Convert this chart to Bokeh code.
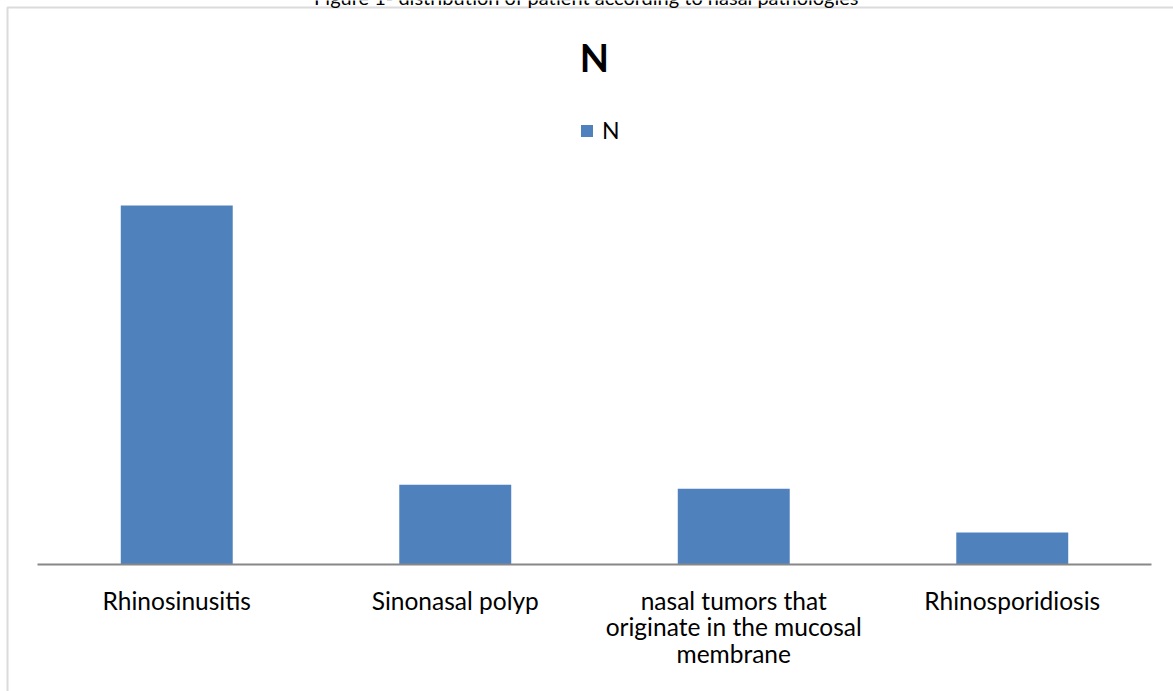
from bokeh.plotting import figure
from bokeh.models import Range1d, Label, BoxAnnotation
from bokeh.core.properties import value
from bokeh.embed import file_html
from bokeh.resources import INLINE
import numpy as np

# ---- data ----
categories = [
    "Rhinosinusitis",
    "Sinonasal polyp",
    "nasal tumors that\noriginate in the mucosal\nmembrane",
    "Rhinosporidiosis",
]
counts = [90, 20, 19, 8]
series_name = "N"
chart_title = "N"
caption = "Figure 1- distribution of patient according to nasal pathologies"

# ---- layout helpers (pixel -> data, for decorations only) ----
W, H = 1173, 691
PX0, STEP = 37.0, 278.5      # left edge of category area, px per category
BASE, PPU = 564.0, 3.99      # baseline pixel row, px per unit
def xd(px):
    return (px - PX0) / STEP
def yd(py):
    return (BASE - py) / PPU

FONT = "Lato"
BLUE = "#4F81BD"
GRAY = "#878787"

x_pos = np.arange(len(categories)) + 0.5

p = figure(width=W, height=H, output_backend="svg", toolbar_location=None,
           x_range=Range1d(xd(0), xd(W)), y_range=Range1d(yd(H), yd(0)),
           x_axis_type=None, y_axis_type=None,
           min_border=0, min_border_left=0, min_border_right=0,
           min_border_top=0, min_border_bottom=0)
p.title.visible = False
p.grid.visible = False
p.outline_line_color = None
p.background_fill_color = "white"
p.border_fill_color = "white"

# chart border (cropped on right and bottom)
p.add_layout(BoxAnnotation(left=xd(7), top=yd(7), right=xd(W + 30), bottom=yd(H + 30),
                           fill_alpha=0, line_color=GRAY, line_width=2))

# bars
p.vbar(x=x_pos, top=counts, bottom=0, width=0.402, fill_color=BLUE,
       line_color=None, legend_label=series_name)

# category axis line
p.segment(x0=[0], x1=[len(categories)], y0=[0], y1=[0], line_color=GRAY, line_width=2)

# category labels
p.text(x=x_pos, y=[yd(585)] * len(categories), text=categories,
       text_align="center", text_baseline="top",
       text_font=value(FONT), text_font_size="24.5px", text_color="black",
       text_line_height=0.92)

# title
p.add_layout(Label(x=len(categories) / 2, y=yd(56.5), text=chart_title,
                   text_align="center", text_baseline="alphabetic",
                   text_font=FONT, text_font_style="bold", text_font_size="38px",
                   text_color="black"))

# caption (cut off by the top of the page, as in the reference)
p.add_layout(Label(x=586, y=H + 4, x_units="screen", y_units="screen", text=caption,
                   text_align="center", text_baseline="alphabetic",
                   text_font=FONT, text_font_size="20px", text_color="black"))

# legend
lg = p.legend[0]
lg.location = (579, 547)
lg.orientation = "horizontal"
lg.border_line_color = None
lg.background_fill_alpha = 0
lg.padding = 0
lg.margin = 0
lg.glyph_width = 15
lg.glyph_height = 15
lg.label_standoff = 8
lg.label_text_font = FONT
lg.label_text_font_size = "23px"
lg.label_text_color = "black"

open("out.html", "w").write(file_html(p, INLINE))
